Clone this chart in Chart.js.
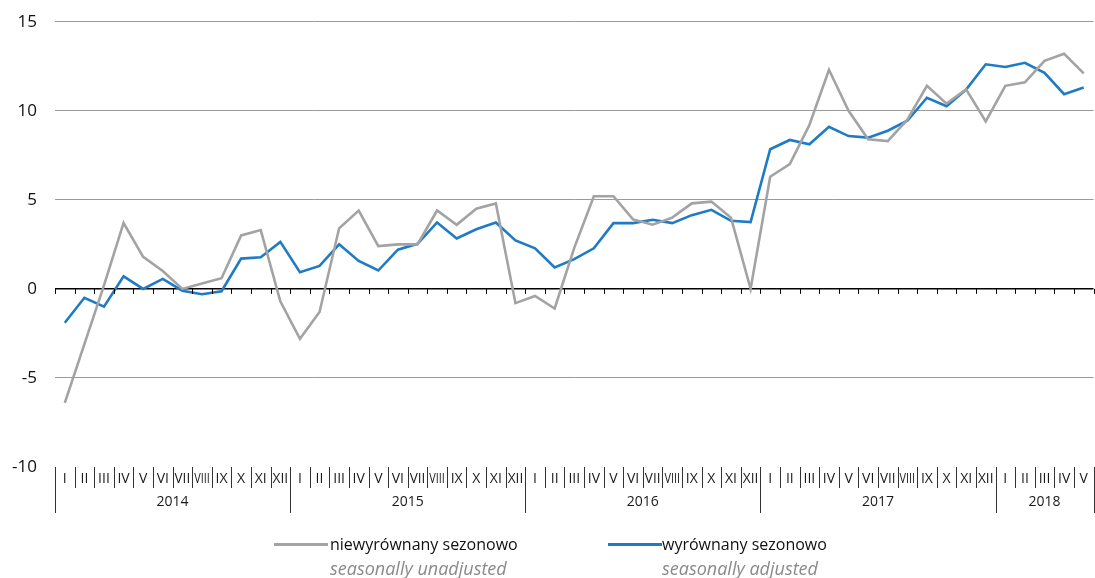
<!DOCTYPE html>
<html>
<head>
<meta charset="utf-8">
<script src="https://cdn.jsdelivr.net/npm/chart.js"></script>
<style>
  body { margin: 0; background: #fff; }
  #wrap { position: relative; width: 1095px; height: 578px; font-family: "Open Sans", "Noto Sans", sans-serif; }
  #chart { position: absolute; left: 0; top: 0; }
  .lg-line { position: absolute; height: 3px; }
  .lg-main { position: absolute; font-size: 16px; color: #111; line-height: 20px; white-space: nowrap; }
  .lg-sub { position: absolute; font-size: 18px; color: #8a8a8a; font-style: italic; line-height: 20px; white-space: nowrap; }
</style>
</head>
<body>
<div id="wrap">
  <canvas id="chart" width="1095" height="578"></canvas>
  <div class="lg-line" style="left:274px; top:543px; width:54px; background:#a3a3a3;"></div>
  <div class="lg-main" style="left:330px; top:534px;">niewyrównany sezonowo</div>
  <div class="lg-sub" style="left:330px; top:558px;">seasonally unadjusted</div>
  <div class="lg-line" style="left:608px; top:543px; width:54px; background:#1f7bc4;"></div>
  <div class="lg-main" style="left:662px; top:534px;">wyrównany sezonowo</div>
  <div class="lg-sub" style="left:662px; top:558px;">seasonally adjusted</div>
</div>
<script>
// months and years on the axis
const monthNames = ['I','II','III','IV','V','VI','VII','VIII','IX','X','XI','XII'];
const years = ['2014', '2015', '2016', '2017', '2018'];
const monthsInYear = [12, 12, 12, 12, 5];

// series values
const unadjusted = [
  -6.4, -3.1, 0.2, 3.7, 1.8, 1.0, 0.0, 0.3, 0.6, 3.0, 3.3, -0.7,
  -2.8, -1.3, 3.4, 4.4, 2.4, 2.5, 2.5, 4.4, 3.6, 4.5, 4.8, -0.8,
  -0.4, -1.1, 2.3, 5.2, 5.2, 3.9, 3.6, 4.0, 4.8, 4.9, 4.0, 0.0,
  6.3, 7.0, 9.2, 12.3, 10.0, 8.4, 8.3, 9.5, 11.4, 10.4, 11.2, 9.4,
  11.4, 11.6, 12.8, 13.2, 12.1
];
const adjusted = [
  -1.9, -0.5, -1.0, 0.7, 0.0, 0.56, -0.1, -0.3, -0.13, 1.7, 1.78, 2.64,
  0.94, 1.29, 2.5, 1.57, 1.03, 2.2, 2.53, 3.73, 2.83, 3.35, 3.73, 2.72,
  2.28, 1.2, 1.67, 2.28, 3.69, 3.69, 3.88, 3.69, 4.14, 4.44, 3.82, 3.75,
  7.84, 8.36, 8.12, 9.1, 8.58, 8.49, 8.88, 9.44, 10.73, 10.26, 11.19, 12.61,
  12.46, 12.69, 12.13, 10.93, 11.31
];

const yMin = -10, yMax = 15, yStep = 5;

const labels = [];
years.forEach((y, i) => {
  for (let m = 0; m < monthsInYear[i]; m++) labels.push(monthNames[m] + ' ' + y);
});

// draws y labels, the month/year box under the plot and the ticks on the zero line
const axisBox = {
  id: 'axisBox',
  afterDraw(chart) {
    const ctx = chart.ctx;
    const x = chart.scales.x, y = chart.scales.y;
    const area = chart.chartArea;
    const n = labels.length;
    const w = (area.right - area.left) / n;
    const y0 = y.getPixelForValue(0);
    const top = area.bottom;

    ctx.save();
    // y labels (drawn here so they don't push the plot down)
    ctx.fillStyle = '#111';
    ctx.textAlign = 'right';
    ctx.textBaseline = 'middle';
    ctx.font = '17px "Open Sans", "Noto Sans", sans-serif';
    y.ticks.forEach(t => {
      ctx.fillText(String(t.value), area.left - 18, y.getPixelForValue(t.value));
    });

    // ticks on zero line
    ctx.strokeStyle = '#000';
    ctx.lineWidth = 1;
    for (let k = 0; k <= n; k++) {
      const px = Math.round(area.left + k * w) + 0.5;
      ctx.beginPath();
      ctx.moveTo(px, y0);
      ctx.lineTo(px, y0 + 5);
      ctx.stroke();
    }

    // separators
    ctx.strokeStyle = '#333';
    let k = 0;
    const yearStarts = [0];
    monthsInYear.forEach(c => { k += c; yearStarts.push(k); });
    for (let i = 0; i <= n; i++) {
      const px = Math.round(area.left + i * w) + 0.5;
      const isYear = yearStarts.includes(i);
      ctx.beginPath();
      ctx.moveTo(px, top);
      ctx.lineTo(px, isYear ? top + 46 : top + 21);
      ctx.stroke();
    }

    // month labels
    ctx.fillStyle = '#1a1a1a';
    ctx.textAlign = 'center';
    ctx.font = '14px "Open Sans", "Noto Sans", sans-serif';
    for (let i = 0; i < n; i++) {
      const cx = x.getPixelForValue(i);
      ctx.fillText(labels[i].split(' ')[0], cx, top + 12, w - 4);
    }
    // year labels
    for (let j = 0; j < years.length; j++) {
      const a = area.left + yearStarts[j] * w;
      const b = area.left + yearStarts[j + 1] * w;
      ctx.fillText(years[j], (a + b) / 2, top + 35);
    }
    ctx.restore();
  }
};

new Chart(document.getElementById('chart'), {
  type: 'line',
  data: {
    labels: labels,
    datasets: [
      {
        label: 'niewyrównany sezonowo',
        data: unadjusted,
        borderColor: '#a3a3a3',
        borderWidth: 2.6,
        pointRadius: 0,
        tension: 0
      },
      {
        label: 'wyrównany sezonowo',
        data: adjusted,
        borderColor: '#1f7bc4',
        borderWidth: 2.6,
        pointRadius: 0,
        tension: 0
      }
    ]
  },
  options: {
    responsive: false,
    animation: false,
    layout: { padding: { top: 21.7, right: 1.5, left: 0, bottom: 0 } },
    plugins: { legend: { display: false }, tooltip: { enabled: false } },
    scales: {
      x: {
        offset: true,
        grid: { display: false },
        border: { display: false },
        ticks: { display: false },
        afterFit(scale) { scale.height = 111; }
      },
      y: {
        min: yMin,
        max: yMax,
        border: { display: false },
        ticks: { stepSize: yStep, display: false },
        grid: {
          drawTicks: false,
          color: ctx => ctx.tick.value === 0 ? '#000' : (ctx.tick.value === yMin ? 'rgba(0,0,0,0)' : '#9a9a9a'),
          lineWidth: ctx => ctx.tick.value === 0 ? 1.5 : 1
        },
        afterFit(scale) { scale.width = 55; }
      }
    }
  },
  plugins: [axisBox]
});
</script>
</body>
</html>
